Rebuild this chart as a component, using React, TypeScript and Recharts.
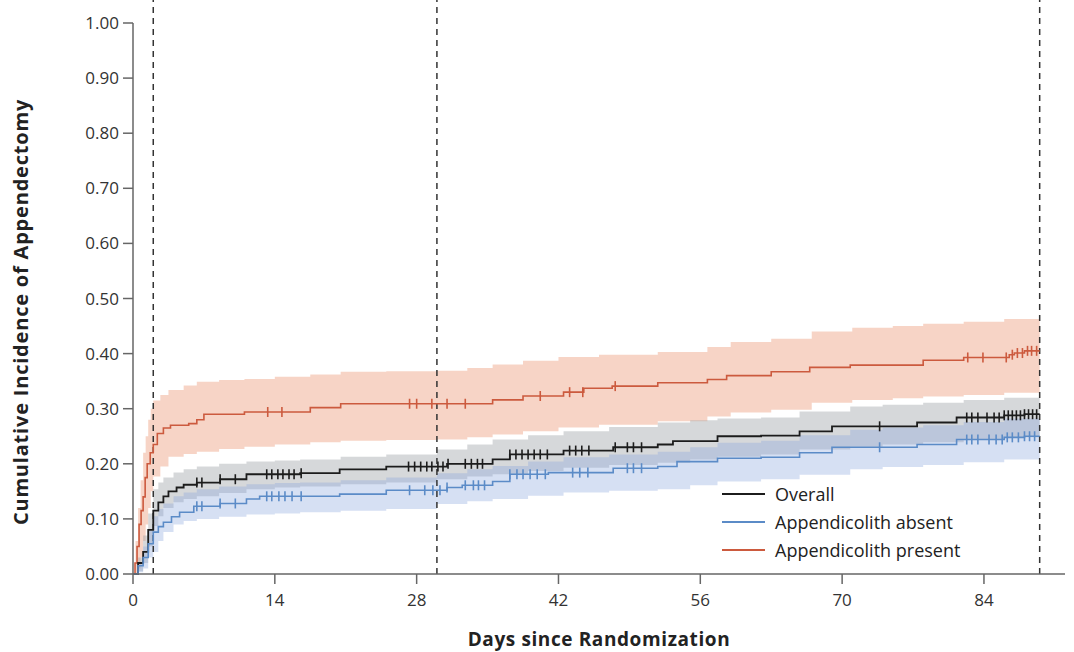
import React from 'react';
import {
    ComposedChart, Line, Area, Scatter, XAxis, YAxis, ReferenceLine,
} from 'recharts';

// ---- data ----
const xTicks = [0, 14, 28, 42, 56, 70, 84];
const yTicks = [0, 0.1, 0.2, 0.3, 0.4, 0.5, 0.6, 0.7, 0.8, 0.9, 1.0];
const dashedDays = [2, 30, 89.5];

// step curves: time (days) / cumulative incidence
const presentTimes = [0, 0.2, 0.4, 0.6, 0.8, 1, 1.2, 1.4, 1.7, 2, 2.4, 3, 3.7, 5.5, 6.3, 7, 11, 17.5, 20.5, 35.5, 38.5, 42.5, 44.5, 47.3, 51.8, 56.7, 58.6, 63, 66.8, 70.8, 78, 82, 86.5, 87, 88, 89.5];
const presentValues = [0, 0.02, 0.05, 0.09, 0.115, 0.14, 0.175, 0.2, 0.22, 0.235, 0.255, 0.265, 0.27, 0.273, 0.28, 0.29, 0.294, 0.302, 0.309, 0.316, 0.323, 0.33, 0.337, 0.341, 0.347, 0.353, 0.36, 0.367, 0.375, 0.379, 0.388, 0.393, 0.398, 0.401, 0.405, 0.405];

const overallTimes = [0, 0.5, 1, 1.5, 2, 2.5, 3, 3.5, 4.3, 5, 6.3, 8.6, 11.2, 16.5, 20.4, 25, 31, 35.5, 37.2, 42.5, 47.4, 51.8, 53.3, 57.7, 62, 65.8, 69, 77.4, 81.3, 86, 88, 89.5];
const overallValues = [0, 0.02, 0.04, 0.08, 0.115, 0.13, 0.141, 0.15, 0.157, 0.162, 0.166, 0.172, 0.181, 0.183, 0.19, 0.195, 0.2, 0.208, 0.217, 0.224, 0.23, 0.235, 0.241, 0.25, 0.251, 0.259, 0.268, 0.275, 0.284, 0.288, 0.29, 0.29];

const absentTimes = [0, 0.5, 1, 1.5, 2, 2.5, 3, 3.8, 4.6, 6, 8.6, 11.2, 12.5, 20.4, 25, 31, 32.5, 35.5, 37.2, 41, 47.4, 51.8, 53.7, 57.7, 62, 65.8, 69, 77.4, 81.3, 86, 88, 89.5];
const absentValues = [0, 0.015, 0.03, 0.055, 0.076, 0.086, 0.094, 0.104, 0.112, 0.123, 0.128, 0.136, 0.141, 0.145, 0.152, 0.157, 0.161, 0.168, 0.181, 0.184, 0.192, 0.195, 0.204, 0.21, 0.212, 0.22, 0.23, 0.235, 0.244, 0.248, 0.25, 0.25];

// confidence bands
const presentBandTimes = [0, 0.25, 0.5, 0.75, 1, 1.25, 1.5, 1.75, 2, 2.7, 3.5, 5, 6.3, 8.5, 11, 14, 17.5, 20.5, 25, 30, 33, 35.5, 38.5, 42, 46, 51.8, 56.7, 59, 63, 67, 71, 75, 78, 82, 86, 89.5];
const presentUpper = [0, 0.06, 0.12, 0.17, 0.22, 0.25, 0.28, 0.3, 0.315, 0.325, 0.334, 0.342, 0.349, 0.352, 0.354, 0.358, 0.362, 0.367, 0.368, 0.369, 0.374, 0.38, 0.387, 0.394, 0.398, 0.403, 0.412, 0.421, 0.427, 0.44, 0.447, 0.45, 0.454, 0.458, 0.463, 0.467];
const presentLower = [0, 0, 0.01, 0.03, 0.06, 0.09, 0.12, 0.15, 0.177, 0.195, 0.213, 0.218, 0.222, 0.227, 0.231, 0.235, 0.239, 0.242, 0.243, 0.244, 0.248, 0.253, 0.259, 0.266, 0.271, 0.277, 0.286, 0.293, 0.298, 0.311, 0.316, 0.319, 0.322, 0.325, 0.329, 0.331];

const bandTimes = [0, 0.5, 1, 1.5, 2, 2.5, 3, 4, 5, 6.3, 8.5, 11.2, 14, 16.5, 20.5, 25, 30, 33, 35.5, 39, 42.5, 47, 51.8, 55, 57.7, 62, 65.8, 70.8, 74, 78, 82, 86, 89.5];
const overallUpper = [0, 0.03, 0.07, 0.11, 0.154, 0.166, 0.175, 0.184, 0.19, 0.195, 0.2, 0.204, 0.206, 0.208, 0.213, 0.217, 0.226, 0.235, 0.244, 0.252, 0.259, 0.267, 0.275, 0.279, 0.282, 0.284, 0.295, 0.304, 0.307, 0.311, 0.316, 0.32, 0.322];
const overallLower = [0, 0.005, 0.02, 0.05, 0.087, 0.105, 0.12, 0.13, 0.136, 0.141, 0.147, 0.154, 0.157, 0.159, 0.163, 0.166, 0.172, 0.177, 0.181, 0.187, 0.193, 0.198, 0.202, 0.208, 0.213, 0.217, 0.226, 0.231, 0.235, 0.239, 0.244, 0.248, 0.25];
const absentUpper = [0, 0.02, 0.05, 0.08, 0.105, 0.118, 0.128, 0.141, 0.148, 0.154, 0.159, 0.163, 0.165, 0.166, 0.17, 0.175, 0.183, 0.19, 0.196, 0.204, 0.212, 0.217, 0.222, 0.23, 0.238, 0.242, 0.252, 0.262, 0.266, 0.27, 0.276, 0.282, 0.286];
const absentLower = [0, 0.003, 0.01, 0.03, 0.04, 0.06, 0.076, 0.09, 0.096, 0.1, 0.104, 0.108, 0.11, 0.112, 0.115, 0.118, 0.127, 0.132, 0.136, 0.142, 0.148, 0.151, 0.154, 0.161, 0.168, 0.172, 0.18, 0.19, 0.194, 0.198, 0.203, 0.208, 0.213];

// censoring marks (days)
const presentCensored = [13.3, 14.7, 27.3, 28, 29.5, 31, 32.8, 40.2, 43.1, 44.4, 47.6, 82.4, 83.9, 86.2, 86.8, 87.3, 87.8, 88.3, 88.7, 89.2];
const overallCensored = [6.3, 6.8, 8.6, 10.1, 13.2, 13.7, 14.3, 14.8, 15.4, 15.9, 16.6, 27.2, 27.8, 28.4, 29, 29.5, 30.1, 30.6, 31.1, 32.8, 33.4, 34, 34.5, 37.2, 37.8, 38.4, 39, 39.6, 40.2, 40.9, 43.1, 43.7, 44.3, 45, 47.6, 48.8, 49.4, 50.2, 73.7, 82.3, 82.8, 83.4, 84.3, 85, 85.5, 86, 86.4, 86.8, 87.2, 87.6, 88, 88.4, 88.8, 89.2];
const absentCensored = [6.3, 6.8, 8.6, 10.1, 13.2, 13.7, 14.4, 15, 15.7, 16.6, 27.3, 28.8, 29.6, 30.3, 31, 32.8, 33.6, 34.1, 34.7, 37.2, 37.9, 38.5, 39.2, 39.9, 40.7, 43.4, 44.1, 44.9, 48.8, 49.4, 50.2, 73.7, 82.3, 82.8, 83.4, 84.5, 85.2, 85.8, 86.3, 86.8, 87.4, 88, 88.5, 89];

const RED = '#cc5a3e';
const BLACK = '#1c1c1c';
const BLUE = '#5b8bc7';
const FONT = '"Open Sans", sans-serif';

const toLine = (times: number[], values: number[]) => times.map((x, i) => ({ x, y: values[i] }));
const toBand = (times: number[], lo: number[], hi: number[]) => times.map((x, i) => ({ x, band: [lo[i], hi[i]] }));

// value of a step curve at time t (used to sit censor marks on their curve)
const stepAt = (times: number[], values: number[], t: number) => {
    let v = values[0];
    for (let i = 0; i < times.length; i++) {
        if (times[i] <= t) v = values[i];
    }
    return v;
};
const toMarks = (censored: number[], times: number[], values: number[]) =>
    censored.map((x) => ({ x, y: stepAt(times, values, x) }));

const presentLine = toLine(presentTimes, presentValues);
const overallLine = toLine(overallTimes, overallValues);
const absentLine = toLine(absentTimes, absentValues);

const presentBand = toBand(presentBandTimes, presentLower, presentUpper);
const overallBand = toBand(bandTimes, overallLower, overallUpper);
const absentBand = toBand(bandTimes, absentLower, absentUpper);

const presentMarks = toMarks(presentCensored, presentTimes, presentValues);
const overallMarks = toMarks(overallCensored, overallTimes, overallValues);
const absentMarks = toMarks(absentCensored, absentTimes, absentValues);

const legendItems = [
    { name: 'Overall', color: BLACK },
    { name: 'Appendicolith absent', color: BLUE },
    { name: 'Appendicolith present', color: RED },
];

const tickMark = (color: string) => (props: any) => {
    const { cx, cy } = props;
    if (cx == null || cy == null) return <g />;
    return <line x1={cx} x2={cx} y1={cy - 5} y2={cy + 5} stroke={color} strokeWidth={1.6} />;
};

const YLabel = () => (
    <text
        x={20}
        y={312}
        transform="rotate(-90 20 312)"
        textAnchor="middle"
        dominantBaseline="central"
        fill="#222"
        fontFamily={FONT}
        fontWeight={700}
        fontSize={20}
        letterSpacing={0.8}
    >
        Cumulative Incidence of Appendectomy
    </text>
);

export default function App() {
    return (
        <div style={{ position: 'absolute', left: 0, top: 0, width: 1074, height: 652, background: '#fff' }}>
            <ComposedChart width={1074} height={652} margin={{ top: 23, right: 9, bottom: 0, left: 0 }}>
                <XAxis
                    type="number"
                    dataKey="x"
                    domain={[0, 92]}
                    ticks={xTicks}
                    allowDataOverflow
                    height={78}
                    tickSize={10}
                    tickMargin={10}
                    stroke="#666"
                    strokeWidth={1.5}
                    tick={{ fill: '#333', fontSize: 17, fontFamily: FONT }}
                    label={{
                        value: 'Days since Randomization',
                        position: 'insideBottom',
                        offset: 6,
                        style: { fill: '#222', fontSize: 19, fontWeight: 700, fontFamily: FONT, letterSpacing: 0.6 },
                    }}
                />
                <YAxis
                    type="number"
                    dataKey="y"
                    domain={[0, 1]}
                    ticks={yTicks}
                    width={133}
                    tickSize={10}
                    tickMargin={4}
                    stroke="#666"
                    strokeWidth={1.5}
                    tickFormatter={(v: number) => v.toFixed(2)}
                    tick={{ fill: '#333', fontSize: 17, fontFamily: FONT }}
                    label={{ content: () => <YLabel /> }}
                />
                {dashedDays.map((d) => (
                    <ReferenceLine
                        key={d}
                        segment={[{ x: d, y: 0 }, { x: d, y: 1.045 }]}
                        ifOverflow="visible"
                        stroke="#333"
                        strokeWidth={1.5}
                        strokeDasharray="6 5"
                    />
                ))}
                <Area data={presentBand} dataKey="band" type="stepAfter" stroke="none" fill="#ee9f80" fillOpacity={0.45} isAnimationActive={false} />
                <Area data={overallBand} dataKey="band" type="stepAfter" stroke="none" fill="#9da1a7" fillOpacity={0.42} isAnimationActive={false} />
                <Area data={absentBand} dataKey="band" type="stepAfter" stroke="none" fill="#8aa6de" fillOpacity={0.35} isAnimationActive={false} />
                <Line data={presentLine} dataKey="y" type="stepAfter" stroke={RED} strokeWidth={1.6} dot={false} isAnimationActive={false} />
                <Line data={overallLine} dataKey="y" type="stepAfter" stroke={BLACK} strokeWidth={1.8} dot={false} isAnimationActive={false} />
                <Line data={absentLine} dataKey="y" type="stepAfter" stroke={BLUE} strokeWidth={1.6} dot={false} isAnimationActive={false} />
                <Scatter data={presentMarks} dataKey="y" shape={tickMark(RED)} isAnimationActive={false} />
                <Scatter data={overallMarks} dataKey="y" shape={tickMark(BLACK)} isAnimationActive={false} />
                <Scatter data={absentMarks} dataKey="y" shape={tickMark(BLUE)} isAnimationActive={false} />
            </ComposedChart>
            <div style={{ position: 'absolute', left: 722, top: 480, fontFamily: FONT, fontSize: 18, color: '#222' }}>
                {legendItems.map((item) => (
                    <div key={item.name} style={{ display: 'flex', alignItems: 'center', height: 28 }}>
                        <span style={{ display: 'inline-block', width: 43, height: 2, background: item.color, marginRight: 10 }} />
                        <span>{item.name}</span>
                    </div>
                ))}
            </div>
        </div>
    );
}
